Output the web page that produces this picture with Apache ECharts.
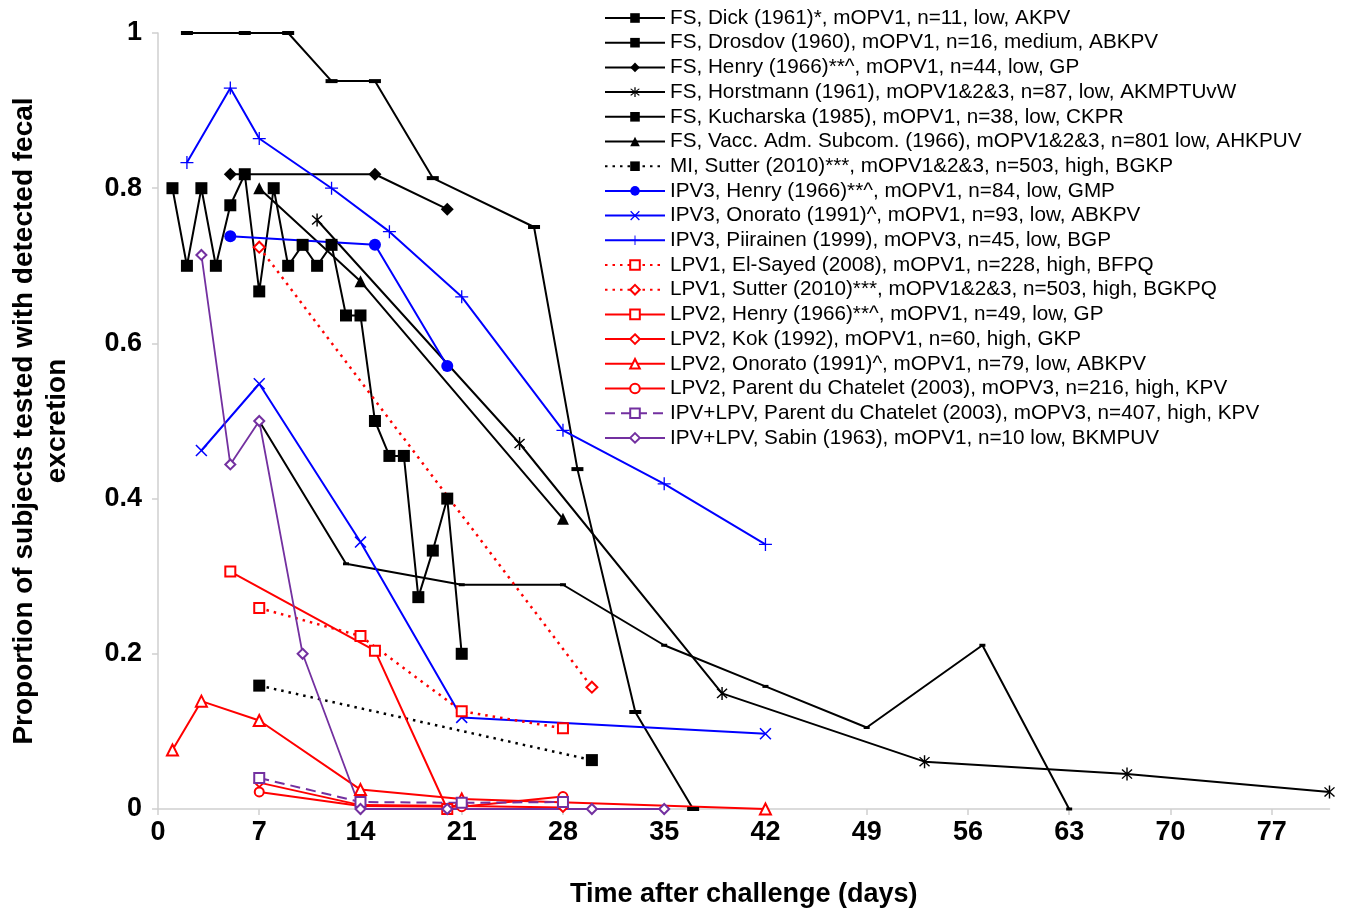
<!DOCTYPE html>
<html>
<head>
<meta charset="utf-8">
<script src="https://cdn.jsdelivr.net/npm/echarts@6/dist/echarts.min.js"></script>
<style>
html,body{margin:0;padding:0;background:#fff;}
#chart{width:1361px;height:917px;}
</style>
</head>
<body>
<div id="chart"></div>
<script>
// ---- data ----
const xTicks = [0, 7, 14, 21, 28, 35, 42, 49, 56, 63, 70, 77];
const yTicks = [0, 0.2, 0.4, 0.6, 0.8, 1];

const seriesNames = [
  'FS, Dick (1961)*, mOPV1, n=11, low, AKPV',
  'FS, Drosdov (1960), mOPV1, n=16, medium, ABKPV',
  'FS, Henry (1966)**^, mOPV1, n=44, low, GP',
  'FS, Horstmann (1961), mOPV1&2&3, n=87, low, AKMPTUvW',
  'FS, Kucharska (1985), mOPV1, n=38, low, CKPR',
  'FS, Vacc. Adm. Subcom. (1966), mOPV1&2&3, n=801 low, AHKPUV',
  'MI, Sutter (2010)***, mOPV1&2&3, n=503, high, BGKP',
  'IPV3, Henry (1966)**^, mOPV1, n=84, low, GMP',
  'IPV3, Onorato (1991)^, mOPV1, n=93, low, ABKPV',
  'IPV3, Piirainen (1999), mOPV3, n=45, low, BGP',
  'LPV1, El-Sayed (2008), mOPV1, n=228, high, BFPQ',
  'LPV1, Sutter (2010)***, mOPV1&2&3, n=503, high, BGKPQ',
  'LPV2, Henry (1966)**^, mOPV1, n=49, low, GP',
  'LPV2, Kok (1992), mOPV1, n=60, high, GKP',
  'LPV2, Onorato (1991)^, mOPV1, n=79, low, ABKPV',
  'LPV2, Parent du Chatelet (2003), mOPV3, n=216, high, KPV',
  'IPV+LPV, Parent du Chatelet (2003), mOPV3, n=407, high, KPV',
  'IPV+LPV, Sabin (1963), mOPV1, n=10 low, BKMPUV'
];

const dickDays = [1,2,3,4,5,6,7,8,9,10,11,12,13,14,15,16,17,18,19,20,21];
const dickVals = [0.80,0.70,0.80,0.70,0.778,0.818,0.667,0.80,0.70,0.727,0.70,0.727,0.636,0.636,0.50,0.455,0.455,0.273,0.333,0.40,0.20];

const drosdovDays = [2,6,9,12,15,19,26,29,33,37];
const drosdovVals = [1,1,1,0.938,0.938,0.813,0.75,0.438,0.125,0];

const henryFsDays = [5,15,20];
const henryFsVals = [0.818,0.818,0.773];

const horstmannDays = [11,25,39,53,67,81];
const horstmannVals = [0.759,0.471,0.149,0.061,0.045,0.022];

const kucharskaDays = [7,13,21,28,35,42,49,57,63];
const kucharskaVals = [0.5,0.316,0.289,0.289,0.211,0.158,0.105,0.211,0];

const vaccDays = [7,14,28];
const vaccVals = [0.80,0.68,0.374];

const miSutterDays = [7,30];
const miSutterVals = [0.159,0.063];

const ipvHenryDays = [5,15,20];
const ipvHenryVals = [0.738,0.727,0.571];

const ipvOnoratoDays = [3,7,14,21,42];
const ipvOnoratoVals = [0.462,0.548,0.344,0.118,0.097];

const piirainenDays = [2,5,7,12,16,21,28,35,42];
const piirainenVals = [0.833,0.929,0.864,0.80,0.744,0.66,0.488,0.419,0.341];

const elSayedDays = [7,14,21,28];
const elSayedVals = [0.259,0.223,0.126,0.104];

const lpv1SutterDays = [7,30];
const lpv1SutterVals = [0.724,0.157];

const lpv2HenryDays = [5,15,20];
const lpv2HenryVals = [0.306,0.204,0];

const kokDays = [7,14,21,28];
const kokVals = [0.034,0.005,0.004,0.002];

const lpv2OnoratoDays = [1,3,7,14,21,42];
const lpv2OnoratoVals = [0.076,0.139,0.114,0.025,0.013,0];

const parentLpvDays = [7,14,21,28];
const parentLpvVals = [0.022,0.004,0.003,0.016];

const parentIpvDays = [7,14,21,28];
const parentIpvVals = [0.040,0.009,0.008,0.009];

const sabinDays = [3,5,7,10,14,20,30,35];
const sabinVals = [0.714,0.444,0.5,0.2,0,0,0,0];

// ---- styling ----
const BLACK = '#000000', BLUE = '#0000ff', RED = '#ff0000', PURPLE = '#7330a0';
const ASTERISK = 'path://M-1,-10L1,-10L1,10L-1,10Z M-7.7,-6.3L-6.3,-7.7L7.7,6.3L6.3,7.7Z M6.3,-7.7L7.7,-6.3L-6.3,7.7L-7.7,6.3Z';
const XMARK = 'path://M-7.7,-6.3L-6.3,-7.7L7.7,6.3L6.3,7.7Z M6.3,-7.7L7.7,-6.3L-6.3,7.7L-7.7,6.3Z';
const PLUS = 'path://M-1,-10L1,-10L1,10L-1,10Z M-10,-1L10,-1L10,1L-10,1Z';
const DOTTED = [2.5, 5];

function pairs(xs, ys) { return xs.map((x, i) => [x, ys[i]]); }

function mk(idx, xs, ys, color, symbol, size, opts) {
  opts = opts || {};
  const empty = symbol.indexOf('empty') === 0;
  return {
    name: seriesNames[idx],
    type: 'line',
    data: pairs(xs, ys),
    symbol: symbol,
    symbolSize: size,
    showAllSymbol: true,
    lineStyle: { color: color, width: opts.width || 2, type: opts.type || 'solid' },
    itemStyle: empty
      ? { color: color, borderColor: color, borderWidth: 2 }
      : { color: color, borderWidth: 0 },
    emphasis: { disabled: true },
    animation: false,
    z: opts.z || 2
  };
}

const series = [
  mk(0, dickDays, dickVals, BLACK, 'rect', 12),
  mk(1, drosdovDays, drosdovVals, BLACK, 'rect', [12, 4]),
  mk(2, henryFsDays, henryFsVals, BLACK, 'diamond', 13),
  mk(3, horstmannDays, horstmannVals, BLACK, ASTERISK, [11, 13]),
  mk(4, kucharskaDays, kucharskaVals, BLACK, 'rect', [6, 3]),
  mk(5, vaccDays, vaccVals, BLACK, 'triangle', 12),
  mk(6, miSutterDays, miSutterVals, BLACK, 'rect', 12, { type: DOTTED, width: 2.5 }),
  mk(7, ipvHenryDays, ipvHenryVals, BLUE, 'circle', 12),
  mk(8, ipvOnoratoDays, ipvOnoratoVals, BLUE, XMARK, 12),
  mk(9, piirainenDays, piirainenVals, BLUE, PLUS, 13),
  mk(10, elSayedDays, elSayedVals, RED, 'emptyRect', 10, { type: DOTTED, width: 2.5 }),
  mk(11, lpv1SutterDays, lpv1SutterVals, RED, 'emptyDiamond', 11, { type: DOTTED, width: 2.5 }),
  mk(12, lpv2HenryDays, lpv2HenryVals, RED, 'emptyRect', 10),
  mk(13, kokDays, kokVals, RED, 'emptyDiamond', 9),
  mk(14, lpv2OnoratoDays, lpv2OnoratoVals, RED, 'emptyTriangle', 11),
  mk(15, parentLpvDays, parentLpvVals, RED, 'emptyCircle', 9),
  mk(16, parentIpvDays, parentIpvVals, PURPLE, 'emptyRect', 10, { type: [10, 6] }),
  mk(17, sabinDays, sabinVals, PURPLE, 'emptyDiamond', 10, { width: 1.8 })
];

const chart = echarts.init(document.getElementById('chart'), null, { renderer: 'canvas' });
chart.setOption({
  backgroundColor: '#ffffff',
  animation: false,
  grid: { left: 155, right: 31.5, top: 33, bottom: 108, containLabel: false },
  legend: {
    orient: 'vertical',
    left: 599,
    top: 2,
    itemWidth: 60,
    itemHeight: 12,
    itemGap: 2.7,
    data: seriesNames,
    selectedMode: false,
    textStyle: { fontFamily: '"Liberation Sans", Arial, sans-serif', fontSize: 20.7, color: '#000', lineHeight: 22 }
  },
  xAxis: {
    type: 'value',
    min: xTicks[0],
    max: 81,
    interval: xTicks[1] - xTicks[0],
    name: 'Time after challenge (days)',
    nameLocation: 'middle',
    nameGap: 72,
    nameTextStyle: { fontFamily: '"Liberation Sans", Arial, sans-serif', fontWeight: 'bold', fontSize: 27, color: '#000' },
    axisLine: { show: true, lineStyle: { color: '#cfcfcf', width: 1.5 } },
    axisTick: { show: true, inside: false, length: 6, lineStyle: { color: '#cfcfcf', width: 1.5 } },
    splitLine: { show: false },
    axisLabel: {
      margin: 10,
      showMaxLabel: false,
      formatter: v => (xTicks.indexOf(v) >= 0 ? String(v) : ''),
      fontFamily: '"Liberation Sans", Arial, sans-serif', fontWeight: 'bold', fontSize: 27, color: '#000'
    }
  },
  yAxis: {
    type: 'value',
    min: yTicks[0],
    max: yTicks[yTicks.length - 1],
    interval: 0.2,
    name: 'Proportion of subjects tested with detected fecal\nexcretion',
    nameLocation: 'middle',
    nameGap: 84,
    nameRotate: 90,
    nameTextStyle: { fontFamily: '"Liberation Sans", Arial, sans-serif', fontWeight: 'bold', fontSize: 28, color: '#000', lineHeight: 33, align: 'center' },
    axisLine: { show: true, lineStyle: { color: '#cfcfcf', width: 1.5 } },
    axisTick: { show: true, inside: false, length: 6, lineStyle: { color: '#cfcfcf', width: 1.5 } },
    splitLine: { show: false },
    axisLabel: {
      margin: 16,
      formatter: v => String(Math.round(v * 10) / 10),
      fontFamily: '"Liberation Sans", Arial, sans-serif', fontWeight: 'bold', fontSize: 27, color: '#000'
    }
  },
  series: series
});
</script>
</body>
</html>
